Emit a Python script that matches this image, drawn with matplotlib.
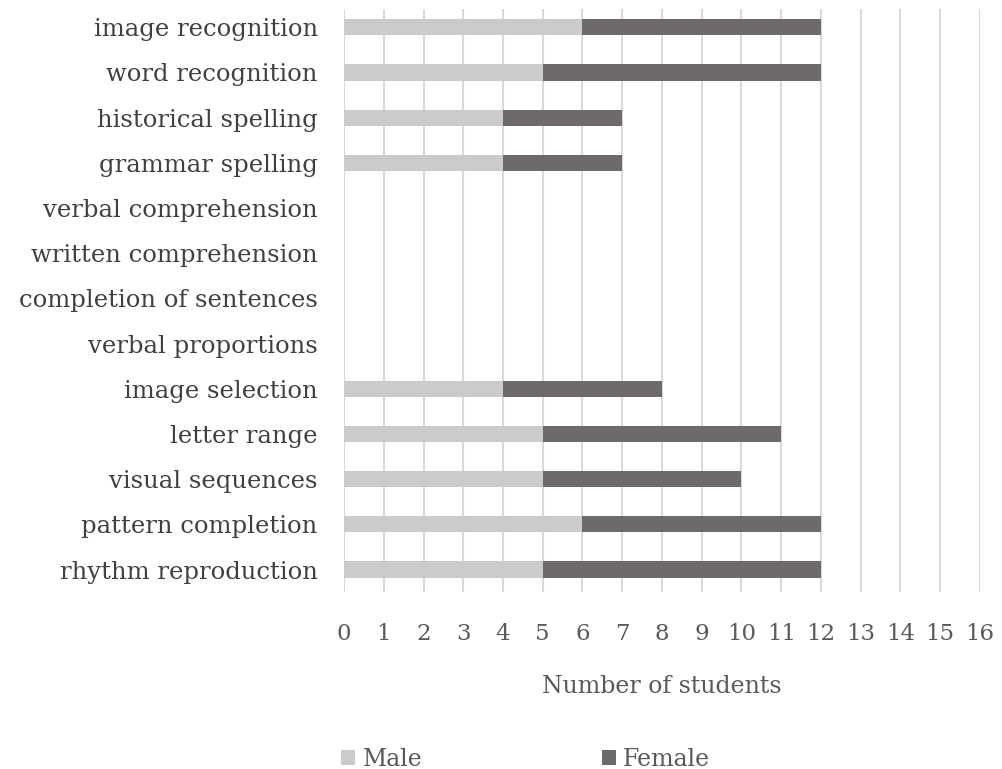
import matplotlib.pyplot as plt
import numpy as np

categories = ["image recognition", "word recognition", "historical spelling", "grammar spelling",
              "verbal comprehension", "written comprehension", "completion of sentences",
              "verbal proportions", "image selection", "letter range", "visual sequences",
              "pattern completion", "rhythm reproduction"]
male = [6, 5, 4, 4, 0, 0, 0, 0, 4, 5, 5, 6, 5]
female = [6, 7, 3, 3, 0, 0, 0, 0, 4, 6, 5, 6, 7]
xticks = list(range(0, 17))

plt.rcParams['font.family'] = ['DejaVu Serif']

fig = plt.figure(figsize=(10.03, 7.69), dpi=100)
ax = fig.add_axes([0.343, 0.230, 0.634, 0.758])

y = np.arange(len(categories))
ax.barh(y, male, height=0.36, color="#cccbcb", label="Male", zorder=3)
ax.barh(y, female, left=male, height=0.36, color="#6e6a6a", label="Female", zorder=3)

ax.set_xlim(0, 16)
ax.set_ylim(len(categories) - 0.5, -0.4)
ax.set_xticks(xticks)
ax.set_xticklabels([str(t) for t in xticks], fontsize=16.5, color="#595959")
ax.set_yticks(y)
ax.set_yticklabels(categories, fontsize=17.5, color="#404040")
ax.tick_params(axis="y", length=0, pad=19)
ax.tick_params(axis="x", length=0, pad=22)
ax.xaxis.grid(True, color="#d9d9d9", linewidth=1.5, zorder=0)
for s in ax.spines.values():
    s.set_visible(False)
ax.set_xlabel("Number of students", fontsize=17, color="#595959", labelpad=22)

fig.legend(loc="lower center", bbox_to_anchor=(0.524, -0.03), ncol=2, frameon=False,
           fontsize=17, handlelength=0.6, handleheight=0.6, columnspacing=7.6,
           handletextpad=0.3, labelcolor="#595959")

fig.savefig("out.png", dpi=100)
